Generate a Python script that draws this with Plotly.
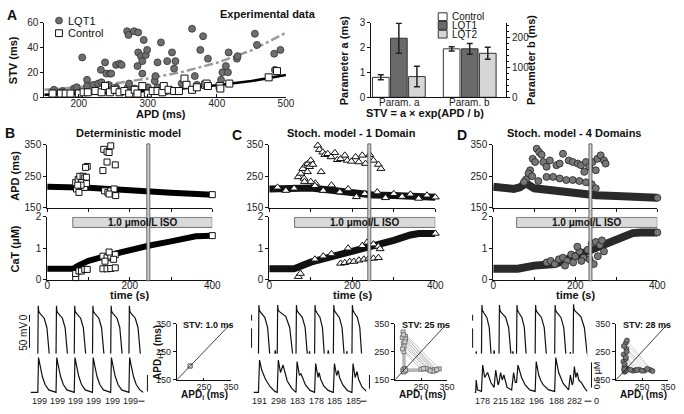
import plotly.graph_objects as go

W, H = 684, 414
FONT = "Liberation Sans, Arial, Helvetica, sans-serif"

# ===================== DATA =====================
# Panel A - experimental STV vs APD
lqt1_apd = [164,176,193,197,205,212,212,221,228,232,233,238,240,243,245,247,254,254,259,262,270,272,280,271,273,
            281,285,286,286,290,292,292,294,297,299,300,310,311,314,314,319,328,328,335,338,340,349,364,368,371,
            376,380,387,406,408,413,416,417,429,430,455,458,483,484,492]
lqt1_stv = [6,5,7,8,32,14,9,10,11,22,12,28,19,10,19,19,26,8,27,26,53,50,53,8,11,
            7,25,36,52,33,19,29,46,34,38,8,13,17,28,8,44,29,5,36,23,29,11,55,17,10,
            38,49,31,14,20,25,20,36,31,33,51,42,35,22,38]
ctrl_apd = [162,174,181,188,200,207,213,224,233,238,245,252,259,266,273,281,285,292,300,307,314,321,323,330,338,
            345,353,356,364,371,383,385,387,404,405,418,475,487]
ctrl_stv = [3,3,3,3,3,4,4,5,4,9,4,6,4,5,3,6,3,9,3,5,5,4,9,6,5,
            5,15,10,6,8,10,11,9,9,7,11,16,21]
fit_apd = [150, 200, 250, 300, 350, 400, 450, 500]
fit_ctrl_stv = [2.0, 2.8, 3.8, 5.1, 7.0, 9.6, 13.0, 17.8]
fit_lqt1_stv = [6.0, 8.1, 11.0, 15.0, 20.4, 27.7, 37.6, 51.8]

# Panel A - fitted parameters
bar_categories = ["Param. a", "Param. b"]
bar_groups = ["Control", "LQT1", "LQT2"]
param_a = [0.8, 2.37, 0.83]
param_a_err = [0.1, 0.6, 0.41]
param_b = [162, 162, 147]
param_b_err = [7, 18, 20]

# Panels B-D - time courses (time in s)
iso_start = [62, 61, 57]
iso_end = 400
marker_time = [245, 241, 237]

b_apd_band_t = [0, 50, 100, 150, 200, 250, 300, 350, 400]
b_apd_band = [217, 217, 214, 210, 205, 201, 198, 195, 192]
b_apd_out_t = [69,75,79,87,91,95,83,71,77,91,95,97,93,82,74,135,137,145,154,150,145,165,139,147,154,162,166,150]
b_apd_out = [230,240,250,250,245,247,230,210,199,215,227,281,278,222,222,268,335,327,346,325,295,286,204,199,204,210,189,194]
b_cat_band_t = [0, 62, 75, 100, 150, 200, 245, 300, 340, 360, 400]
b_cat_band = [0.35, 0.35, 0.45, 0.6, 0.78, 0.95, 1.08, 1.22, 1.35, 1.38, 1.4]
b_cat_out_t = [69,69,77,83,91,97,135,145,154,165,135,145,154,165,140,161,150]
b_cat_out = [0.07,0.2,0.28,0.28,0.33,0.33,0.35,0.35,0.36,0.38,0.75,0.7,0.75,0.8,0.59,0.65,0.88]

c_apd_band_t = [0, 50, 100, 150, 200, 250, 300, 350, 400]
c_apd_band = [210, 211, 213, 206, 198, 191, 189, 187, 184]
c_apd_out_t = [70,76,81,87,93,97,92,84,100,105,117,121,129,134,141,149,158,164,172,182,188,198,208,216,224,232,242,251,263,269,125,111,100,85,
               20,40,60,110,130,150,170,190,210,230,260,280,300,320,340,360,380]
c_apd_out = [248,259,274,285,290,280,264,243,300,287,347,334,326,318,321,311,324,302,305,316,300,297,311,295,316,290,318,300,287,274,264,228,233,233,
             215,205,212,220,205,222,200,210,185,195,200,182,195,186,193,180,190]
c_cat_band_t = [0, 60, 100, 150, 200, 250, 300, 340, 360, 400]
c_cat_band = [0.35, 0.35, 0.56, 0.72, 0.9, 1.08, 1.25, 1.42, 1.47, 1.47]
c_cat_out_t = [70,75,172,182,194,204,216,228,240,251,263,224,236,251,263,267,110,130,150,190]
c_cat_out = [0.1,0.2,0.52,0.54,0.58,0.58,0.62,0.65,0.68,0.68,0.7,1.08,1.19,1.13,1.06,0.98,0.65,0.75,0.82,1.0]

d_apd_band_t = [0, 30, 50, 65, 80, 100, 150, 200, 250, 300, 350, 400]
d_apd_band = [217, 214, 210, 215, 228, 212, 203, 197, 190, 188, 185, 182]
d_apd_out_t = [106,112,118,96,102,122,90,86,130,138,154,162,170,184,194,206,214,226,234,242,254,262,270,274,250,222,
               130,146,162,178,194,210,226,240,250,80,95,110,75]
d_apd_out = [337,326,318,305,295,295,269,259,280,300,285,290,321,300,295,290,285,295,280,295,305,316,300,290,269,264,
             248,248,243,238,238,235,231,225,212,240,250,235,232]
d_cat_band_t = [0, 60, 100, 150, 200, 250, 300, 340, 360, 400]
d_cat_band = [0.35, 0.35, 0.45, 0.5, 0.75, 1.02, 1.3, 1.48, 1.5, 1.5]
d_cat_out_t = [130,140,150,160,170,180,190,200,210,220,230,240,250,260,270,175,195,215,235,255,265,205,245]
d_cat_out = [0.55,0.6,0.5,0.65,0.7,0.6,0.8,0.75,0.9,0.7,0.95,1.15,1.2,1.1,0.9,0.45,0.55,0.6,0.65,0.75,1.25,1.05,0.5]

# Bottom row - action potentials (ms, mV) and Ca transients (uM)
b_onsets = [400, 1400, 2400, 3400, 4400, 5400]
b_apd_labels = ["199", "199", "199", "199", "199", "199"]
b_ap_t = [0, 400,425,450,520,750,900,980,1040, 1400,1425,1450,1520,1750,1900,1980,2040,
          2400,2425,2450,2520,2750,2900,2980,3040, 3400,3425,3450,3520,3750,3900,3980,4040,
          4400,4425,4450,4520,4750,4900,4980,5040, 5400,5425,5450,5520,5750,5900,5980,6040, 6200]
b_ap_v = [-85, -85,38,25,20,8,-15,-60,-85, -85,38,25,20,8,-15,-60,-85,
          -85,38,25,20,8,-15,-60,-85, -85,38,25,20,8,-15,-60,-85,
          -85,38,25,20,8,-15,-60,-85, -85,38,25,20,8,-15,-60,-85, -85]
b_cat_t = [0, 400,440,520,650,800,1000, 1400,1440,1520,1650,1800,2000, 2400,2440,2520,2650,2800,3000,
           3400,3440,3520,3650,3800,4000, 4400,4440,4520,4650,4800,5000, 5400,5440,5520,5650,5800,6000, 6200]
b_cat_v = [0.1, 0.1,0.8,0.65,0.42,0.26,0.15, 0.1,0.8,0.65,0.42,0.26,0.15, 0.1,0.8,0.65,0.42,0.26,0.15,
           0.1,0.8,0.65,0.42,0.26,0.15, 0.1,0.8,0.65,0.42,0.26,0.15, 0.1,0.8,0.65,0.42,0.26,0.15, 0.1]

c_onsets = [270, 1300, 2330, 3350, 4380, 5400]
c_apd_labels = ["191", "298", "183", "178", "185", "185"]
c_ap_t = [0,270,295,320,390,617,774,850,900, 1150,1190,1240, 1300,1325,1350,1420,1773,1988,2091,2160,
          2330,2355,2380,2450,2677,2834,2910,2960, 3030,3070,3120, 3350,3375,3400,3470,3647,3782,3847,3890,
          4060,4100,4150, 4380,4405,4430,4500,4710,4860,4932,4980, 5080,5120,5170,
          5400,5425,5450,5520,5697,5832,5897,5940, 6200]
c_ap_v = [-85,-85,40,28,22,10,-15,-60,-85, -85,-70,-85, -85,40,28,24,12,-15,-60,-85,
          -85,40,28,22,10,-15,-60,-85, -85,-72,-85, -85,40,28,22,10,-15,-60,-85,
          -85,-70,-85, -85,40,28,22,10,-15,-60,-85, -85,-72,-85,
          -85,40,28,22,10,-15,-60,-85, -85]
c_cat_t = [0,270,330,450,650,900,1170, 1300,1360,1480,1620,1700,1850,2100,2300,
           2330,2390,2520,2600,2680,2850,3100,3330, 3350,3410,3540,3600,3680,3850,4100,4360,
           4380,4440,4560,4650,4720,4900,5150,5380, 5400,5460,5580,5680,5760,5950,6200]
c_cat_v = [0.1,0.1,0.75,0.55,0.37,0.22,0.12, 0.1,0.75,0.5,0.65,0.55,0.33,0.18,0.12,
           0.1,0.72,0.44,0.48,0.4,0.25,0.14,0.1, 0.1,0.68,0.4,0.5,0.37,0.23,0.14,0.1,
           0.1,0.68,0.44,0.54,0.4,0.25,0.14,0.1, 0.1,0.68,0.4,0.52,0.37,0.21,0.12]

d_onsets = [380, 1350, 2320, 3350, 4430, 5450]
d_apd_labels = ["178", "215", "182", "196", "188", "282"]
d_ap_t = [0,60,90,130, 380,405,430,500,677,812,877,920, 1040,1080,1120, 1350,1375,1400,1470,1719,1886,1966,2020,
          2080,2120,2160, 2320,2345,2370,2440,2617,2752,2817,2860, 3350,3375,3400,3470,3697,3854,3930,3980,
          4430,4455,4480,4550,4777,4934,5010,5060, 5260,5300,5340, 5450,5475,5500,5570,5879,6074,6168,6240]
d_ap_v = [-85,-85,-72,-85, -85,40,28,22,10,-15,-60,-85, -85,-70,-85, -85,40,28,22,10,-15,-60,-85,
          -85,-72,-85, -85,40,28,22,10,-15,-60,-85, -85,40,28,22,10,-15,-60,-85,
          -85,40,28,22,10,-15,-60,-85, -85,-74,-85, -85,42,30,25,12,-15,-60,-85]
d_cat_t = [0,60,90,160,380,450,560,720,900,1080, 1170,1300,1350,1440,1530,1620,1800,2050,2160,2250,
           2320,2400,2600,2800,3050,3350,3410,3550,3650,3800, 4100,4430,4490,4650,4900,5200,5300,5400,5450,5520,
           5600,5680,5760,5900,6100,6240]
d_cat_v = [0.1,0.1,0.35,0.15,0.12,0.65,0.4,0.5,0.3,0.2, 0.55,0.25,0.3,0.5,0.35,0.45,0.2,0.15,0.5,0.3,
           0.3,0.65,0.4,0.25,0.15,0.12,0.72,0.45,0.35,0.25, 0.15,0.12,0.8,0.5,0.28,0.15,0.45,0.25,0.3,0.62,
           0.4,0.5,0.35,0.3,0.18,0.12]

# Poincare plots (APD sequences, ms)
identity = [150, 350]
b_seq = [199, 199, 199]
c_seq = [185,190,305,183,178,300,186,181,320,189,184,250,188,182,280,187,190,295,180,185,270,191,183,310,186,188,285,182,179,260,190,185]
d_seq = [178,215,182,196,188,282,185,190,260,183,179,240,186,192,290,181,187,225,184,180,270,189,183,205,186,191,250,182,188,230,185]
stv_labels = ["STV: 1.0 ms", "STV: 25 ms", "STV: 28 ms"]

# ===================== FIGURE =====================
def px_x(a, b):
    return [a / W, b / W]


def px_y(top, bottom):
    return [1 - bottom / H, 1 - top / H]


layout = dict(width=W, height=H, margin=dict(l=0, r=0, t=0, b=0), paper_bgcolor="white",
              plot_bgcolor="white", showlegend=False, barmode="overlay",
              font=dict(family=FONT, size=10, color="#111"))
counter = [0]


def new_axes(xd, yd, xkw=None, ykw=None):
    counter[0] += 1
    s = "" if counter[0] == 1 else str(counter[0])
    base = dict(showline=True, linecolor="#111", linewidth=1, ticks="outside", ticklen=3, tickwidth=1,
                tickcolor="#111", showgrid=False, zeroline=False, fixedrange=True,
                tickfont=dict(size=10, color="#222", family=FONT))
    xa = dict(base)
    xa.update(domain=px_x(*xd), anchor="y" + s)
    xa.update(xkw or {})
    ya = dict(base)
    ya.update(domain=px_y(*yd), anchor="x" + s)
    ya.update(ykw or {})
    layout["xaxis" + s] = xa
    layout["yaxis" + s] = ya
    return "x" + s, "y" + s


fig = go.Figure()
annotations = []
shapes = []


def ann(text, x, y, size=10, bold=False, angle=0, xanchor="center", color="#111", xref="paper", yref="paper"):
    if xref == "paper":
        x = x / W
    if yref == "paper":
        y = 1 - y / H
    annotations.append(dict(text=("<b>%s</b>" % text) if bold else text, x=x, y=y, xref=xref, yref=yref,
                            showarrow=False, textangle=angle, xanchor=xanchor, yanchor="middle",
                            font=dict(size=size, color=color, family=FONT)))


def pline(x0, y0, x1, y1, w=1, color="#111"):
    shapes.append(dict(type="line", xref="paper", yref="paper", x0=x0 / W, x1=x1 / W,
                       y0=1 - y0 / H, y1=1 - y1 / H, line=dict(color=color, width=w)))


# ---- Panel A scatter ----
xa, ya = new_axes((42, 288), (17, 94),
                  dict(range=[150, 500], tickvals=[200, 300, 400, 500], ticks="inside", ticklabelstandoff=-3),
                  dict(range=[0, 60], tickvals=[0, 20, 40, 60]))
fig.add_trace(go.Scatter(x=fit_apd, y=fit_lqt1_stv, mode="lines", xaxis=xa, yaxis=ya,
                         line=dict(color="#9a9a9a", width=2.5, dash="dashdot")))
fig.add_trace(go.Scatter(x=lqt1_apd, y=lqt1_stv, mode="markers", xaxis=xa, yaxis=ya, cliponaxis=False,
                         marker=dict(symbol="circle", size=7, color="#6e6e6e", line=dict(color="#333", width=0.8))))
fig.add_trace(go.Scatter(x=fit_apd, y=fit_ctrl_stv, mode="lines", xaxis=xa, yaxis=ya,
                         line=dict(color="#000", width=2.5)))
fig.add_trace(go.Scatter(x=ctrl_apd, y=ctrl_stv, mode="markers", xaxis=xa, yaxis=ya, cliponaxis=False,
                         marker=dict(symbol="square", size=7, color="white", line=dict(color="#111", width=1))))
ann("A", 9, 9, size=14, bold=True)
ann("Experimental data", 270, 8, size=11, bold=True)
ann("STV (ms)", 11, 56, size=11, bold=True, angle=-90)
ann("APD (ms)", 161, 111, size=11, bold=True)
# scatter legend
shapes.append(dict(type="circle", xref="paper", yref="paper", x0=53.5 / W, x1=60.5 / W, y0=1 - 18.5 / H,
                   y1=1 - 11.5 / H, fillcolor="#6e6e6e", line=dict(color="#333", width=0.8)))
shapes.append(dict(type="rect", xref="paper", yref="paper", x0=53.5 / W, x1=60.5 / W, y0=1 - 31.5 / H,
                   y1=1 - 24.5 / H, fillcolor="white", line=dict(color="#111", width=1)))
ann("LQT1", 64, 15, size=11, xanchor="left")
ann("Control", 64, 28, size=11, xanchor="left")

# ---- Panel A bars ----
xb, yb = new_axes((375, 512), (17, 94),
                  dict(range=[-0.39, 1.51], tickvals=[0, 1], showticklabels=False, ticks=""),
                  dict(range=[0, 3], tickvals=[0, 1, 2, 3]))
counter[0] += 1
yb2 = "y" + str(counter[0])
layout["yaxis" + str(counter[0])] = dict(overlaying=yb, side="right", anchor=xb, range=[0, 250],
                                         tickvals=[0, 100, 200], showline=True, linecolor="#111", ticks="outside",
                                         ticklen=3, tickcolor="#111", showgrid=False, zeroline=False,
                                         minor=dict(dtick=20, ticklen=2, ticks="outside", tickcolor="#111"),
                                         tickfont=dict(size=10, color="#222", family=FONT), fixedrange=True)
bar_colors = ["white", "#6a6a6a", "#d6d6d6"]
bar_offsets = [-0.375, -0.12, 0.135]
for i, g in enumerate(bar_groups):
    fig.add_trace(go.Bar(x=[0], y=[param_a[i]], xaxis=xb, yaxis=yb, width=0.235, offset=bar_offsets[i],
                         marker=dict(color=bar_colors[i], line=dict(color="#333", width=1)),
                         error_y=dict(type="data", array=[param_a_err[i]], thickness=1.5, width=3, color="#222")))
    fig.add_trace(go.Bar(x=[1], y=[param_b[i]], xaxis=xb, yaxis=yb2, width=0.235, offset=bar_offsets[i],
                         marker=dict(color=bar_colors[i], line=dict(color="#333", width=1)),
                         error_y=dict(type="data", array=[param_b_err[i]], thickness=1.5, width=3, color="#222")))
for k, cat in enumerate(bar_categories):
    annotations.append(dict(text=cat, x=k, y=1 - 99.5 / H, xref=xb, yref="paper", showarrow=False,
                            yanchor="middle", font=dict(size=10, color="#222", family=FONT)))
ann("Parameter a (ms)", 347, 56, size=11, bold=True, angle=-90)
ann("Parameter b (ms)", 538, 56, size=11, bold=True, angle=-90)
ann("STV = a \u00d7 exp(APD / b)", 430, 110, size=11, bold=True)
for i, g in enumerate(bar_groups):
    yc = 11 + 9 * i
    shapes.append(dict(type="rect", xref="paper", yref="paper", x0=443 / W, x1=452 / W, y0=1 - (yc + 4) / H,
                       y1=1 - (yc - 4) / H, fillcolor=bar_colors[i], line=dict(color="#333", width=1)))
    ann(g, 455, yc, size=10, xanchor="left")

# ---- Panels B, C, D time courses ----
panel_x = [(45, 213), (271, 440), (499, 666)]
panel_letters = [("B", 7, 131), ("C", 238, 133), ("D", 467, 133)]
panel_titles = ["Deterministic model", "Stoch. model - 1 Domain", "Stoch. model - 4 Domains"]
apd_data = [(b_apd_band_t, b_apd_band, b_apd_out_t, b_apd_out),
            (c_apd_band_t, c_apd_band, c_apd_out_t, c_apd_out),
            (d_apd_band_t, d_apd_band, d_apd_out_t, d_apd_out)]
cat_data = [(b_cat_band_t, b_cat_band, b_cat_out_t, b_cat_out),
            (c_cat_band_t, c_cat_band, c_cat_out_t, c_cat_out),
            (d_cat_band_t, d_cat_band, d_cat_out_t, d_cat_out)]
mk_styles = [dict(symbol="square", size=6, color="white", line=dict(color="#111", width=1)),
             dict(symbol="triangle-up", size=7, color="white", line=dict(color="#111", width=1)),
             dict(symbol="circle", size=7, color="#777", line=dict(color="#222", width=0.8))]
band_styles = [dict(color="#000", width=6), dict(color="#111", width=7), dict(color="#2a2a2a", width=8)]

for p in range(3):
    x0, x1 = panel_x[p]
    xr1, yr1 = new_axes((x0, x1), (142.7, 208), dict(range=[0, 400], dtick=100, showticklabels=False),
                        dict(range=[150, 350], tickvals=[150, 250, 350]))
    xr2, yr2 = new_axes((x0, x1), (217, 282),
                        dict(range=[0, 400], tickvals=[0, 200, 400], ticks="inside", ticklabelstandoff=-4,
                             minor=dict(dtick=100, ticks="inside", ticklen=3, tickcolor="#111")),
                        dict(range=[0, 2], tickvals=[0, 1, 2]))
    bt, bv, ot, ov = apd_data[p]
    fig.add_trace(go.Scatter(x=bt, y=bv, mode="lines", xaxis=xr1, yaxis=yr1, line=band_styles[p]))
    fig.add_trace(go.Scatter(x=ot, y=ov, mode="markers", xaxis=xr1, yaxis=yr1, cliponaxis=False, marker=mk_styles[p]))
    fig.add_trace(go.Scatter(x=bt[-1:], y=bv[-1:], mode="markers", xaxis=xr1, yaxis=yr1, cliponaxis=False,
                             marker=mk_styles[p]))
    bt, bv, ot, ov = cat_data[p]
    fig.add_trace(go.Scatter(x=bt, y=bv, mode="lines", xaxis=xr2, yaxis=yr2, line=band_styles[p]))
    fig.add_trace(go.Scatter(x=ot, y=ov, mode="markers", xaxis=xr2, yaxis=yr2, cliponaxis=False, marker=mk_styles[p]))
    fig.add_trace(go.Scatter(x=bt[-1:], y=bv[-1:], mode="markers", xaxis=xr2, yaxis=yr2, cliponaxis=False,
                             marker=mk_styles[p]))
    # ISO bar
    shapes.append(dict(type="rect", xref=xr2, yref=yr2, x0=iso_start[p], x1=iso_end, y0=1.66, y1=1.98,
                       fillcolor="#d9d9d9", line=dict(color="#555", width=0.8)))
    annotations.append(dict(text="<b>1.0 \u03bcmol/L ISO</b>", x=(iso_start[p] + iso_end) / 2, y=1.82,
                            xref=xr2, yref=yr2, showarrow=False, yanchor="middle",
                            font=dict(size=10, color="#111", family=FONT)))
    # vertical marker
    shapes.append(dict(type="rect", xref=xr1, xsizemode="pixel", xanchor=marker_time[p], x0=-1.5, x1=1.5,
                       yref="paper", y0=1 - 283 / H, y1=1 - 142 / H, fillcolor="#cfcfcf",
                       line=dict(color="#444", width=0.8)))
    L, lx, ly = panel_letters[p]
    ann(L, lx, ly, size=14, bold=True)
    ann(panel_titles[p], (x0 + x1) / 2 - 1, 131, size=11, bold=True)
    ann("time (s)", (x0 + x1) / 2, 298, size=11, bold=True)

ann("APD (ms)", 12, 175, size=11, bold=True, angle=-90)
ann("CaT (\u03bcM)", 12, 250, size=11, bold=True, angle=-90)

# ---- Bottom row traces ----
trace_x = [(28, 143), (255, 370), (480, 595)]
trace_ranges = [6200, 6200, 6250]
ap_data = [(b_ap_t, b_ap_v, b_cat_t, b_cat_v, b_onsets, b_apd_labels),
           (c_ap_t, c_ap_v, c_cat_t, c_cat_v, c_onsets, c_apd_labels),
           (d_ap_t, d_ap_v, d_cat_t, d_cat_v, d_onsets, d_apd_labels)]
for p in range(3):
    x0, x1 = trace_x[p]
    at, av, ct, cv, ons, labs = ap_data[p]
    xr, yr = new_axes((x0, x1), (305, 364), dict(visible=False, range=[0, trace_ranges[p]]),
                      dict(visible=False, range=[-92, 47]))
    fig.add_trace(go.Scatter(x=at, y=av, mode="lines", xaxis=xr, yaxis=yr, line=dict(color="#111", width=1.2)))
    xr2, yr2 = new_axes((x0, x1), (358, 400), dict(visible=False, range=[0, trace_ranges[p]]),
                        dict(visible=False, range=[0.06, 0.88]))
    fig.add_trace(go.Scatter(x=ct, y=cv, mode="lines", xaxis=xr2, yaxis=yr2, line=dict(color="#111", width=1.2)))
    for o, lab in zip(ons, labs):
        annotations.append(dict(text=lab, x=o + 80, y=1 - 407 / H, xref=xr2, yref="paper", showarrow=False,
                                yanchor="middle", font=dict(size=9, color="#222", family=FONT)))

# scale bars
ann("50 mV", 21, 340, size=10, angle=-90)
ann("0", 21, 321, size=10, angle=-90)
pline(27, 318, 27, 325)
pline(27, 330, 27, 352)
pline(138, 407, 144, 407)
pline(147, 380, 147, 397)
pline(253, 318, 253, 324)
pline(253, 332, 253, 352)
pline(364, 407, 370, 407)
pline(373, 380, 373, 394)
pline(478, 318, 478, 324)
pline(478, 332, 478, 352)
pline(592, 407, 599, 407)
ann("0", 604, 407, size=9)
pline(599, 367, 599, 393)
ann("0.5 \u03bcM", 605, 380, size=9, angle=-90)

# ---- Poincare plots ----
poin_x = [(177, 232), (399, 452), (624, 677)]
seqs = [b_seq, c_seq, d_seq]
poin_marks = [dict(symbol="square-open", size=4, color="#777"),
              dict(symbol="square", size=4, color="#cfcfcf", line=dict(color="#666", width=0.8)),
              dict(symbol="circle", size=5, color="#777", line=dict(color="#222", width=0.6))]
poin_lines = ["rgba(0,0,0,0)", "#b5b5b5", "#c8c8c8"]
for p in range(3):
    x0, x1 = poin_x[p]
    xr, yr = new_axes((x0, x1), (327, 385),
                      dict(range=[150, 350], tickvals=[250, 350], ticks="inside", ticklen=2, ticklabelstandoff=-2,
                           tickfont=dict(size=9, color="#222", family=FONT)),
                      dict(range=[150, 350], tickvals=[150, 250, 350],
                           tickfont=dict(size=9, color="#222", family=FONT)))
    sq = seqs[p]
    fig.add_trace(go.Scatter(x=sq[:-1], y=sq[1:], mode="lines+markers", xaxis=xr, yaxis=yr, cliponaxis=False,
                             line=dict(color=poin_lines[p], width=0.8), marker=poin_marks[p]))
    fig.add_trace(go.Scatter(x=identity, y=identity, mode="lines", xaxis=xr, yaxis=yr,
                             line=dict(color="#111", width=0.8)))
    ann(stv_labels[p], (x0 + x1) / 2 + 5, 329, size=9, bold=True)
    ann("APD<sub>i</sub> (ms)", (x0 + x1) / 2 + 1, 401, size=10, bold=True)
ann("APD<sub>i+1</sub> (ms)", 157, 357, size=10, bold=True, angle=-90)

layout["annotations"] = annotations
layout["shapes"] = shapes
fig.update_layout(**layout)
fig.write_html("out.html", config={"displayModeBar": False, "staticPlot": True})

# remove the default page margin so the figure sits at the window's top-left corner
with open("out.html", "r", encoding="utf-8") as fh:
    html = fh.read()
html = html.replace("<head>", "<head><style>html,body{margin:0;padding:0;}</style>", 1)
with open("out.html", "w", encoding="utf-8") as fh:
    fh.write(html)
